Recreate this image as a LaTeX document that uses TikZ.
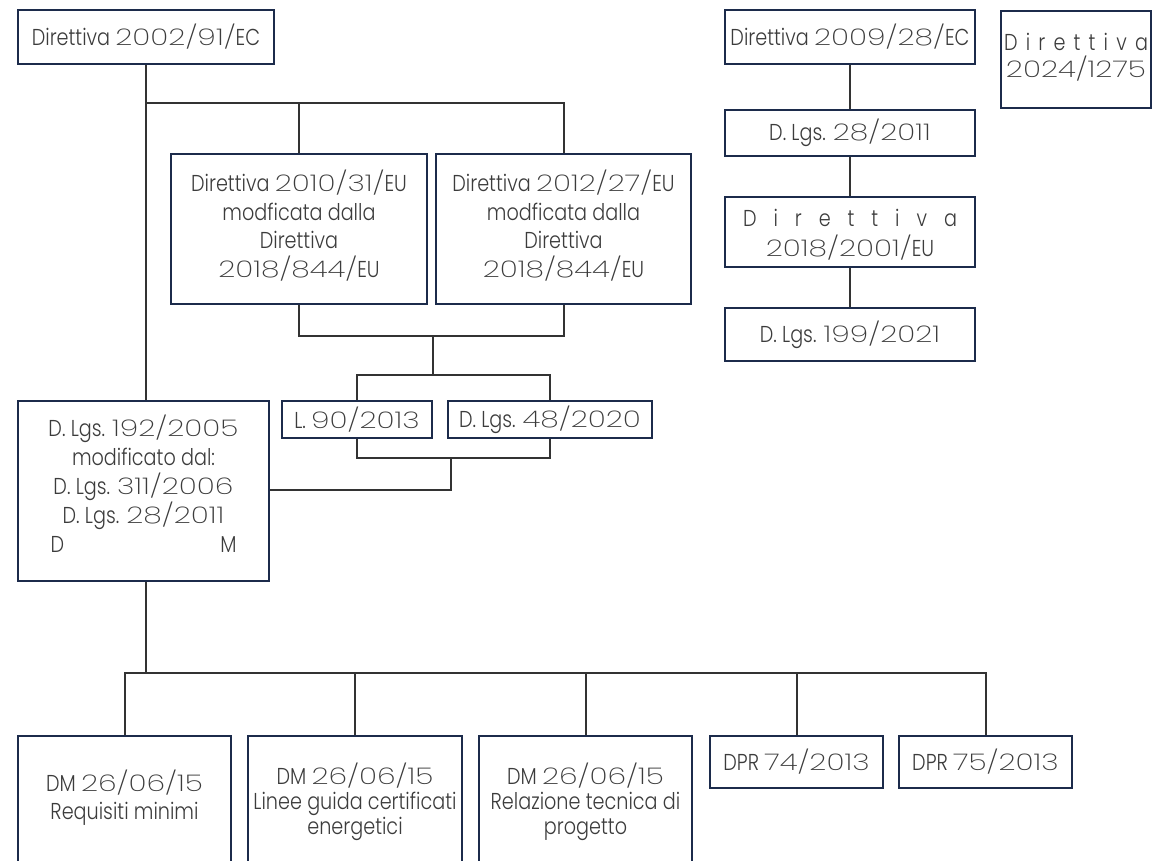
\documentclass[tikz,border=0pt]{standalone}
\usepackage{fontspec}
\setmainfont{Poppins}[UprightFont=* Light, FakeStretch=0.835]
\newfontfamily\dfont{Poppins}[UprightFont=* ExtraLight, FakeStretch=1.3]
\newcommand\nm[1]{{\dfont #1}}
\newcommand\tbx[5]{\parbox[c][#1pt][t]{#2pt}{\fontsize{23}{#4pt}\selectfont\centering\vspace*{#3pt}\rule{0pt}{21pt}#5}}
\definecolor{boxc}{HTML}{1C2B4B}
\definecolor{txtc}{HTML}{3C3C3C}
\definecolor{linec}{HTML}{333333}
\begin{document}
\begin{tikzpicture}[x=1pt,y=-1pt,
  font=\fontsize{23}{28.5}\selectfont,
  box/.style={draw=boxc, line width=2pt, text=txtc, align=center, inner sep=0pt, anchor=north west},
  conn/.style={draw=linec, line width=2pt}]
\useasboundingbox (0,0) rectangle (1153,861);
\clip (0,0) rectangle (1153,861);
% top left
\node[box, minimum width=256, minimum height=54] (A) at (17,9) {Direttiva \nm{2002/91/}EC};
% right column
\node[box, minimum width=250, minimum height=54] (B) at (724,9) {Direttiva \nm{2009/28/}EC};
\node[box, minimum width=150, minimum height=97] (C) at (1000,10)
  {\tbx{97}{150}{19}{27}{\makebox[144pt][s]{D i r e t t i v a}\\\nm{2024/1275}}};
\node[box, minimum width=250, minimum height=46] (D) at (724,109) {D. Lgs. \nm{28/2011}};
\node[box, minimum width=250, minimum height=70] (E) at (724,196)
  {\tbx{70}{250}{8}{30}{\makebox[214pt][s]{D i r e t t i v a}\\\nm{2018/2001/}EU}};
\node[box, minimum width=250, minimum height=53] (F) at (724,307) {D. Lgs. \nm{199/2021}};
% directives
\node[box, minimum width=256, minimum height=150] (G) at (170,153)
  {\tbx{150}{256}{16}{28.5}{Direttiva \nm{2010/31/}EU\\modficata dalla\\Direttiva\\\nm{2018/844/}EU}};
\node[box, minimum width=255, minimum height=150] (H) at (435,153)
  {\tbx{150}{255}{16}{28.5}{Direttiva \nm{2012/27/}EU\\modficata dalla\\Direttiva\\\nm{2018/844/}EU}};
% laws
\node[box, minimum width=150, minimum height=37] (I) at (281,400) {L. \nm{90/2013}};
\node[box, minimum width=204, minimum height=37] (J) at (447,400) {D. Lgs. \nm{48/2020}};
\node[box, minimum width=251, minimum height=180] (K) at (17,400)
  {\tbx{180}{251}{14}{29}{D. Lgs. \nm{192/2005}\\modificato dal:\\D. Lgs. \nm{311/2006}\\D. Lgs. \nm{28/2011}\\\makebox[186pt]{D\hfill M}}};
% bottom row
\node[box, minimum width=213, minimum height=150] (L1) at (17,735)
  {\tbx{150}{213}{34}{28}{DM \nm{26/06/15}\\Requisiti minimi}};
\node[box, minimum width=214, minimum height=150] (L2) at (247,735)
  {\tbx{150}{214}{27}{25}{DM \nm{26/06/15}\\Linee guida certificati\\energetici}};
\node[box, minimum width=213, minimum height=150] (L3) at (478,735)
  {\tbx{150}{213}{27}{25}{DM \nm{26/06/15}\\Relazione tecnica di\\progetto}};
\node[box, minimum width=173, minimum height=52] (L4) at (709,735) {DPR \nm{74/2013}};
\node[box, minimum width=173, minimum height=52] (L5) at (898,735) {DPR \nm{75/2013}};
% bus coordinates
\coordinate (y1) at (0,103);
\coordinate (y2) at (433,336);
\coordinate (y3) at (0,375);
\coordinate (y4) at (0,458);
\coordinate (y5) at (451,490);
\coordinate (y6) at (0,673);
% connectors
\draw[conn] (A.south) -- (A.south |- K.north);
\draw[conn] (A.south |- y1) -| (H.north);
\draw[conn] (G.north) -- (G.north |- y1);
\draw[conn] (B) -- (D);
\draw[conn] (D) -- (E);
\draw[conn] (E) -- (F);
\draw[conn] (G.south) |- (y2) -| (H.south);
\draw[conn] (y2) -- (y2 |- y3);
\draw[conn] (I.north) |- (y3 -| y2) -| (J.north);
\draw[conn] (I.south) |- (y4 -| y5) -| (J.south);
\draw[conn] (y4 -| y5) -- (y5) -- (y5 -| K.east);
\draw[conn] (K.south -| A.south) -- (y6 -| A.south);
\draw[conn] (L1.north) |- (y6 -| L5.north) -- (L5.north);
\draw[conn] (L2.north) -- (L2.north |- y6);
\draw[conn] (L3.north) -- (L3.north |- y6);
\draw[conn] (L4.north) -- (L4.north |- y6);
\end{tikzpicture}
\end{document}
